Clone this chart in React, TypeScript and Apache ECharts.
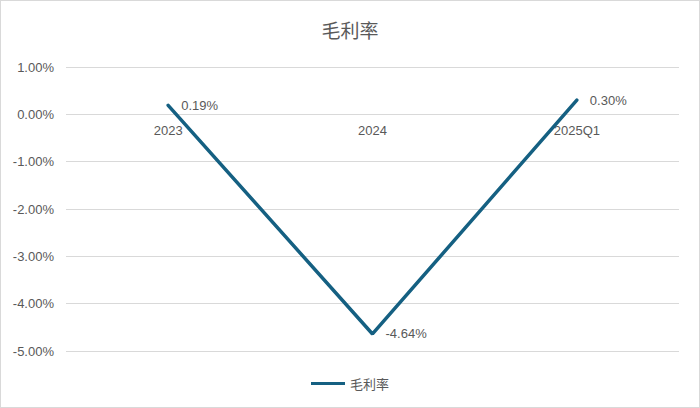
import * as echarts from "echarts";
import { useEffect, useRef } from "react";

const categories = ["2023", "2024", "2025Q1"];
const grossMargin = [0.19, -4.64, 0.3];
const seriesName = "毛利率";
const yMin = -5;
const yMax = 1;

const LineChart = () => {
	const chartRef = useRef<HTMLDivElement>(null);

	useEffect(() => {
		document.body.style.margin = "0";
		const chart = echarts.init(chartRef.current!, null, { renderer: "svg" });
		const gridTop = 66;
		const gridBottom = 56;
		const gridHeight = 408 - gridTop - gridBottom;
		// put the category axis on the zero line
		const zeroOffset = -((0 - yMin) / (yMax - yMin)) * gridHeight;
		chart.setOption({
			animation: false,
			backgroundColor: "#ffffff",
			title: {
				text: seriesName,
				left: "center",
				top: 14,
				textStyle: {
					fontFamily: "Noto Sans CJK SC",
					fontSize: 19,
					fontWeight: "normal",
					color: "#595959"
				}
			},
			legend: {
				data: [seriesName],
				bottom: 12,
				left: "center",
				itemWidth: 34,
				itemHeight: 3,
				itemGap: 4,
				icon: "rect",
				textStyle: {
					fontFamily: "Noto Sans CJK SC",
					fontSize: 13,
					color: "#595959"
				}
			},
			grid: {
				left: 65,
				right: 20,
				top: gridTop,
				bottom: gridBottom,
				containLabel: false
			},
			xAxis: {
				type: "category",
				data: categories,
				boundaryGap: true,
				offset: zeroOffset,
				axisLine: { show: false, onZero: false },
				axisTick: { show: false },
				axisLabel: {
					margin: 11,
					fontFamily: "Liberation Sans",
					fontSize: 13,
					color: "#595959"
				}
			},
			yAxis: {
				type: "value",
				min: yMin,
				max: yMax,
				interval: 1,
				axisLine: { show: false },
				axisTick: { show: false },
				splitLine: { lineStyle: { color: "#d9d9d9", width: 1 } },
				axisLabel: {
					margin: 12,
					fontFamily: "Liberation Sans",
					fontSize: 13,
					color: "#595959",
					formatter: (v: number) => v.toFixed(2) + "%"
				}
			},
			series: [
				{
					name: seriesName,
					type: "line",
					data: grossMargin,
					symbol: "circle",
					symbolSize: 0,
					z: 3,
					lineStyle: { color: "#156082", width: 3.5, cap: "round" },
					itemStyle: { color: "#156082" },
					label: {
						show: true,
						position: "right",
						distance: 13,
						fontFamily: "Liberation Sans",
						fontSize: 13,
						color: "#595959",
						formatter: (p: any) => Number(p.value).toFixed(2) + "%"
					}
				}
			]
		});

		return () => {
			chart.dispose();
		};
	}, []);

	return (
		<div
			ref={chartRef}
			style={{
				width: 700,
				height: 408,
				boxSizing: "border-box",
				border: "1px solid #d9d9d9"
			}}
		/>
	);
};

export default LineChart;
